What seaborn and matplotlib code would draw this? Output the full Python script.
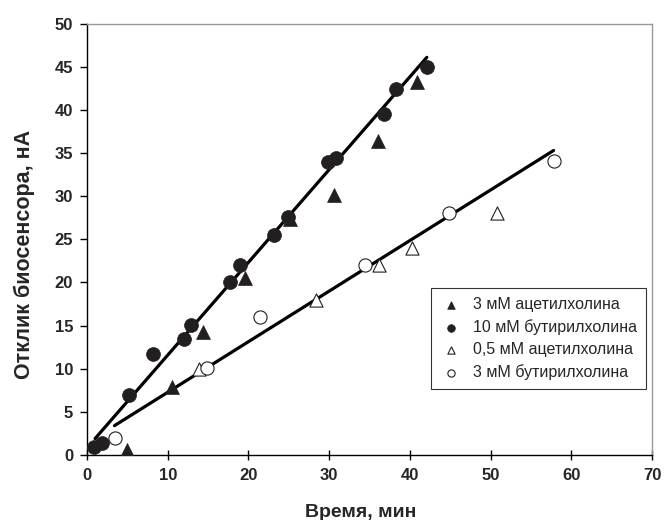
import matplotlib
matplotlib.use("Agg")
import matplotlib.pyplot as plt
import seaborn as sns
import pandas as pd
import numpy as np

# ---- data ----
ach3_x = [5.0, 10.5, 14.4, 19.6, 25.1, 30.6, 36.0, 40.9]
ach3_y = [0.6, 7.9, 14.3, 20.5, 27.4, 30.2, 36.4, 43.3]

bch10_x = [0.9, 1.9, 5.2, 8.2, 12.0, 12.9, 17.7, 18.9, 23.2, 24.9, 29.9, 30.9, 36.8, 38.3, 42.1]
bch10_y = [0.9, 1.4, 7.0, 11.7, 13.5, 15.1, 20.0, 22.0, 25.5, 27.6, 34.0, 34.4, 39.5, 42.4, 45.0]

ach05_x = [13.9, 28.4, 36.2, 40.3, 50.8]
ach05_y = [10.0, 18.0, 22.0, 24.0, 28.0]

bch3_x = [3.5, 14.9, 21.4, 34.4, 44.8, 57.9]
bch3_y = [2.0, 10.1, 16.0, 22.0, 28.0, 34.1]

fit1_x = [1.0, 42.1]
fit1_y = [1.9, 46.1]
fit2_x = [3.4, 57.8]
fit2_y = [3.4, 35.3]

labels = ["3 мМ ацетилхолина", "10 мМ бутирилхолина",
          "0,5 мМ ацетилхолина", "3 мМ бутирилхолина"]
x_label = "Время, мин"
y_label = "Отклик биосенсора, нА"
x_ticks = [0, 10, 20, 30, 40, 50, 60, 70]
y_ticks = [0, 5, 10, 15, 20, 25, 30, 35, 40, 45, 50]

sns.set_style("white")
plt.rcParams["font.family"] = ["Liberation Sans", "DejaVu Sans"]

fig = plt.figure(figsize=(6.65, 5.2), dpi=100)
ax = fig.add_axes([0.1308, 0.125, 0.8497, 0.8294])

dark = "#231f20"
line_df1 = pd.DataFrame({"x": fit1_x, "y": fit1_y})
line_df2 = pd.DataFrame({"x": fit2_x, "y": fit2_y})
sns.lineplot(data=line_df1, x="x", y="y", ax=ax, color="black", lw=2.3, legend=False)
sns.lineplot(data=line_df2, x="x", y="y", ax=ax, color="black", lw=2.3, legend=False)

sns.scatterplot(x=ach3_x, y=ach3_y, ax=ax, marker="^", s=100, color=dark,
                edgecolor=dark, linewidth=0.5, label=labels[0], zorder=3)
sns.scatterplot(x=bch10_x, y=bch10_y, ax=ax, marker="o", s=100, color=dark,
                edgecolor=dark, linewidth=0.5, label=labels[1], zorder=3)
sns.scatterplot(x=ach05_x, y=ach05_y, ax=ax, marker="^", s=90, facecolor="white",
                edgecolor=dark, linewidth=0.8, label=labels[2], zorder=3)
sns.scatterplot(x=bch3_x, y=bch3_y, ax=ax, marker="o", s=90, facecolor="white",
                edgecolor=dark, linewidth=0.8, label=labels[3], zorder=3)

ax.set_xlim(0, 70)
ax.set_ylim(0, 50)
ax.set_xticks(x_ticks)
ax.set_yticks(y_ticks)
ax.set_xticklabels([str(t) for t in x_ticks], fontweight="bold", fontsize=12)
ax.set_yticklabels([str(t) for t in y_ticks], fontweight="bold", fontsize=12)
ax.set_xlabel(x_label, fontweight="bold", fontsize=14, labelpad=15)
ax.set_ylabel(y_label, fontweight="bold", fontsize=15.5, labelpad=14)
ax.xaxis.label.set_x(0.485)
ax.yaxis.label.set_y(0.466)

for side in ["left", "bottom"]:
    ax.spines[side].set_color("black")
    ax.spines[side].set_linewidth(1.0)
for side in ["top", "right"]:
    ax.spines[side].set_color("#999999")
    ax.spines[side].set_linewidth(1.0)

ax.tick_params(axis="y", direction="out", length=5, width=1, color="black", left=True, pad=5)
ax.tick_params(axis="x", direction="inout", length=7, width=1, color="black", bottom=True, pad=6)

leg = ax.legend(loc="upper right", bbox_to_anchor=(0.989, 0.387), frameon=True,
                fontsize=11.5, markerscale=0.55, handletextpad=0.6, borderpad=0.55,
                labelspacing=0.45, fancybox=False, handlelength=1.5, borderaxespad=0)
leg.get_frame().set_edgecolor("black")
leg.get_frame().set_linewidth(0.8)

fig.savefig("out.png", dpi=100)
